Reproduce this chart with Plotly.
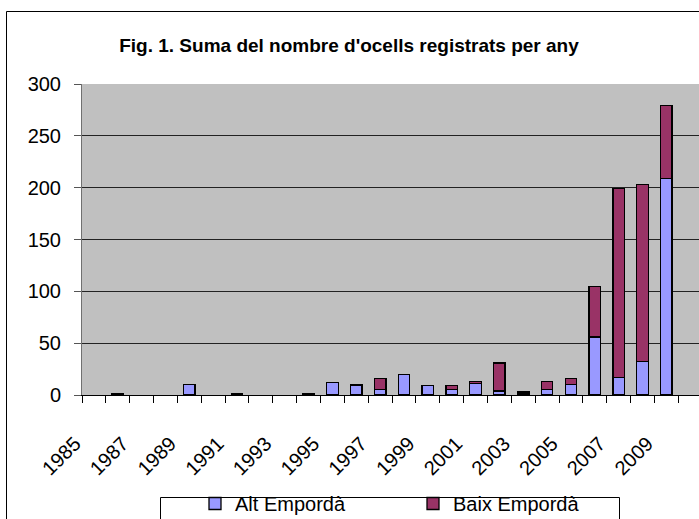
import plotly.graph_objects as go

years = [str(y) for y in range(1985, 2011)]
alt_emporda = [None, 1, None, None, 10, None, 1, None, None, 1, 12, 9, 5, 20, 9,
               5, 11, 4, 1, 5, 10, 56, 17, 32, 209, None]
baix_emporda = [None, None, None, None, None, None, None, None, None, None, None, 1, 11, None, None,
                4, 2, 27, 2, 8, 6, 49, 182, 171, 70, None]
tick_text = [y if int(y) % 2 == 1 else "" for y in years]
y_ticks = [0, 50, 100, 150, 200, 250, 300]

FONT = "Liberation Sans, Arial, sans-serif"

fig = go.Figure()
fig.add_trace(go.Bar(x=years, y=alt_emporda, name="Alt Empordà",
                     marker=dict(color="#9999FF", line=dict(color="#000000", width=1.3))))
fig.add_trace(go.Bar(x=years, y=baix_emporda, name="Baix Empordà",
                     marker=dict(color="#993366", line=dict(color="#000000", width=1.3))))

W, H = 699, 519
L, R, T, B = 82, 0, 84, 124
pw = W - L - R
ph = H - T - B

def px_x(x):
    return (x - L) / pw

def px_y(y):
    return (H - B - y) / ph

fig.update_layout(
    width=W, height=H,
    margin=dict(l=L, r=R, t=T, b=B, autoexpand=False),
    barmode="stack",
    bargap=0.52,
    paper_bgcolor="white",
    plot_bgcolor="#C0C0C0",
    font=dict(family=FONT, size=20, color="black"),
    title=dict(text="<b>Fig. 1. Suma del nombre d'ocells registrats per any</b>",
               x=px_x(349), xanchor="center", xref="paper",
               y=1 - 45 / H, yanchor="middle",
               font=dict(family=FONT, size=19, color="black")),
    xaxis=dict(type="category", categoryorder="array", categoryarray=years,
               tickmode="array", tickvals=years, ticktext=tick_text,
               tickangle=-45, tickson="boundaries", ticks="outside", ticklen=7,
               tickcolor="#000000", showline=True, linecolor="#000000", linewidth=1,
               showgrid=False, range=[-0.5, 25.37],
               ticklabelshift=-19, ticklabelstandoff=28,
               tickfont=dict(family=FONT, size=20)),
    yaxis=dict(range=[0, 300], tickvals=y_ticks, ticks="outside", ticklen=7,
               tickcolor="#555555", showline=True, linecolor="#707070", linewidth=1,
               showgrid=True, gridcolor="#222222", gridwidth=1, zeroline=False,
               tickfont=dict(family=FONT, size=20), ticklabelstandoff=9),
    showlegend=True,
    legend=dict(orientation="h", x=px_x(195), xanchor="left",
                y=px_y(484), yanchor="top", entrywidth=173, entrywidthmode="pixels",
                bgcolor="rgba(0,0,0,0)", borderwidth=0,
                font=dict(family=FONT, size=20), traceorder="normal"),
    shapes=[
        dict(type="rect", xref="paper", yref="paper",
             x0=px_x(6.5), x1=px_x(720), y0=px_y(11.5), y1=px_y(560),
             line=dict(color="black", width=1), fillcolor="rgba(0,0,0,0)", layer="below"),
        dict(type="rect", xref="paper", yref="paper",
             x0=px_x(160.5), x1=px_x(619.5), y0=px_y(497.5), y1=px_y(560),
             line=dict(color="black", width=1), fillcolor="rgba(0,0,0,0)", layer="below"),
    ],
)

fig.write_html("out.html", config={"displayModeBar": False},
               post_script="document.body.style.margin='0';document.body.style.overflow='hidden';")
